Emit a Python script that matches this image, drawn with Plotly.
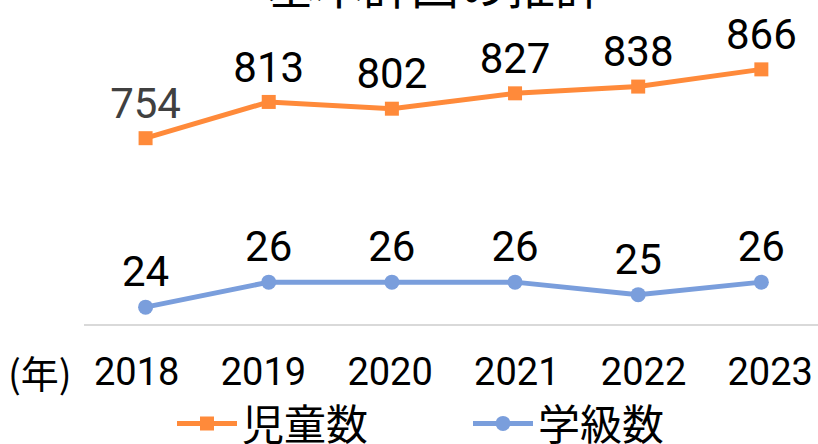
import plotly.graph_objects as go

years = ["2018", "2019", "2020", "2021", "2022", "2023"]
children = [754, 813, 802, 827, 838, 866]
classes = [24, 26, 26, 26, 25, 26]
children_label_colors = ["#404040", "#000000", "#000000", "#000000", "#000000", "#000000"]
classes_label_colors = ["#000000"] * 6

title_text = "基本計画の推計"
orange = "#FF8A3A"
blue = "#7A9EDC"
num_font = "Roboto, Arial, sans-serif"
cjk_font = "Noto Sans CJK JP, sans-serif"

fig = go.Figure()
fig.add_trace(go.Scatter(
    x=years, y=children, name="児童数", mode="lines+markers+text",
    line=dict(color=orange, width=5),
    marker=dict(symbol="square", size=14, color=orange),
    text=[str(v) for v in children], textposition="top center",
    textfont=dict(family=num_font, size=42, color=children_label_colors),
    cliponaxis=False, yaxis="y",
))
fig.add_trace(go.Scatter(
    x=years, y=classes, name="学級数", mode="lines+markers+text",
    line=dict(color=blue, width=5),
    marker=dict(symbol="circle", size=15, color=blue),
    text=[str(v) for v in classes], textposition="top center",
    textfont=dict(family=num_font, size=42, color=classes_label_colors),
    cliponaxis=False, yaxis="y2",
))
# invisible carrier trace for the category tick-label axis
fig.add_trace(go.Scatter(
    x=years, y=[None] * len(years), xaxis="x2", yaxis="y", showlegend=False,
    hoverinfo="skip", mode="lines",
))

plot_h = 444 - 40 - 120

fig.update_layout(
    width=818, height=444,
    margin=dict(l=84, r=0, t=40, b=120, autoexpand=False),
    paper_bgcolor="white", plot_bgcolor="white",
    showlegend=True,
    xaxis=dict(type="category", range=[-0.5, 5.46], showgrid=False, zeroline=False,
               showline=True, linecolor="#D9D9D9", linewidth=1.5, ticks="",
               showticklabels=False),
    xaxis2=dict(type="category", range=[-0.416, 5.377], overlaying="x", side="bottom",
                anchor="y", showgrid=False, zeroline=False, showline=False, ticks="",
                tickfont=dict(family=num_font, size=38, color="#000000"), ticklabelstandoff=22),
    yaxis=dict(range=[451.6, 913.8], visible=False, showgrid=False, zeroline=False),
    yaxis2=dict(range=[22.656, 45.34], overlaying="y", visible=False, showgrid=False, zeroline=False),
    legend=dict(orientation="h", x=172 / 818, xanchor="left", xref="container",
                y=0.046, yanchor="middle", yref="container",
                font=dict(family=cjk_font, size=42, color="#000000"),
                itemwidth=60, entrywidth=221, entrywidthmode="pixels",
                bgcolor="rgba(0,0,0,0)"),
    annotations=[
        dict(text="(年)", xref="paper", yref="paper", x=-0.06, xanchor="center",
             y=-(371 - 323.5) / plot_h, yanchor="middle", showarrow=False,
             font=dict(family=cjk_font, size=38, color="#000000")),
        dict(text=title_text, xref="paper", yref="paper", x=(435 - 84) / (818 - 84), xanchor="center",
             y=1 + (40 + 17) / plot_h, yanchor="middle", showarrow=False,
             font=dict(family=cjk_font, size=48, color="#000000")),
    ],
)

fig.write_html("out.html")
